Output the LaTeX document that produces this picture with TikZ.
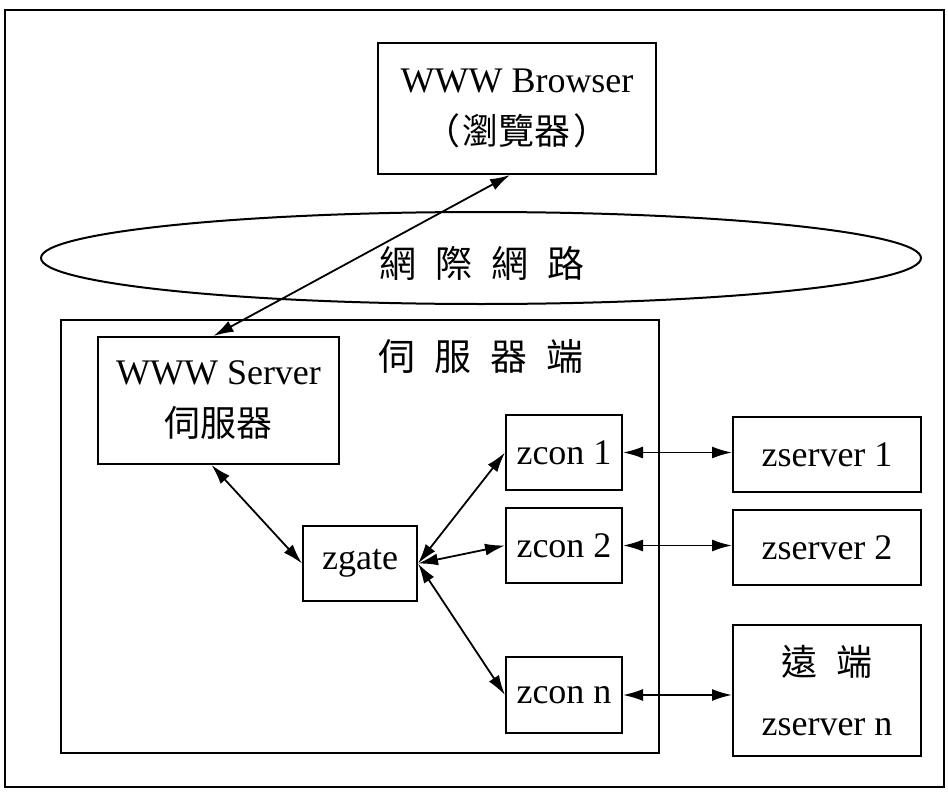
\documentclass[tikz,border=0pt]{standalone}
\usepackage{fontspec}
\setmainfont{Liberation Serif}
\newfontfamily\cjk{Noto Sans CJK TC}
\usetikzlibrary{arrows.meta,calc,shapes.geometric}
\begin{document}
\begin{tikzpicture}[x=1pt,y=-1pt,
  box/.style={draw, line width=2pt, inner sep=0pt, align=center,
    font=\fontsize{36}{56}\selectfont},
  lbl/.style={inner sep=0pt, font=\fontsize{37}{44}\selectfont\cjk},
  dbl/.style={{Latex[length=20pt,width=12pt]}-{Latex[length=20pt,width=12pt]}, line width=1.8pt}]
\useasboundingbox (0,0) rectangle (948,792);
\draw[line width=2pt] (5,10) rectangle (944,787);

% browser
\node[box, minimum width=278pt, minimum height=131pt] (br) at (517,108.5)
  {\raisebox{-4pt}{WWW Browser}\\{\cjk （\hspace{3pt}瀏覽器\hspace{3pt}）}};

% internet ellipse
\node[draw, ellipse, line width=2pt, inner sep=0pt, minimum width=880pt, minimum height=92pt] (net) at (481,258) {};
\node[lbl] (netlbl) at (482,263) {網\hspace{19pt}際\hspace{19pt}網\hspace{19pt}路};

% server side region
\node[draw, line width=2pt, inner sep=0pt, minimum width=598pt, minimum height=433pt] (srv) at (360,536.5) {};
\node[lbl] (srvlbl) at (481,357) {伺\hspace{19pt}服\hspace{19pt}器\hspace{19pt}端};

% www server
\node[box, minimum width=241pt, minimum height=127pt] (ws) at (218.5,400.5)
  {\raisebox{-4pt}{WWW Server}\\{\cjk 伺服器}};

% zgate
\node[box, minimum width=114pt, minimum height=75pt] (zg) at (360,563.5) {zgate};

% zcons
\node[box, minimum width=116pt, minimum height=75pt] (z1) at (564,452.5) {zcon 1};
\node[box, minimum width=116pt, minimum height=75pt] (z2) at (564,545.5) {zcon 2};
\node[box, minimum width=116pt, minimum height=76pt] (zn) at (564,695) {zcon n};

% zservers
\node[box, minimum width=188pt, minimum height=75pt] (s1) at (827,454.5) {zserver 1};
\node[box, minimum width=188pt, minimum height=75pt] (s2) at (827,547.5) {zserver 2};
\node[box, minimum width=188pt, minimum height=131pt, font=\fontsize{36}{60}\selectfont] (sn) at (827,690.5)
  {{\cjk 遠\hspace{19pt}端}\\zserver n};

% connectors
\draw[dbl] ([xshift=-5pt]ws.north) -- ([xshift=-7pt]br.south);
\draw[dbl] ([xshift=-7pt]ws.south) -- (zg.west);
\draw[dbl] (zg.east) -- (z1.west);
\draw[dbl] (zg.east) -- (z2.west);
\draw[dbl] (zg.east) -- (zn.west);
\draw[dbl] (z1.east) -- (s1.west |- z1.east);
\draw[dbl] (z2.east) -- (s2.west |- z2.east);
\draw[dbl] (zn.east) -- (sn.west |- zn.east);
\end{tikzpicture}
\end{document}
